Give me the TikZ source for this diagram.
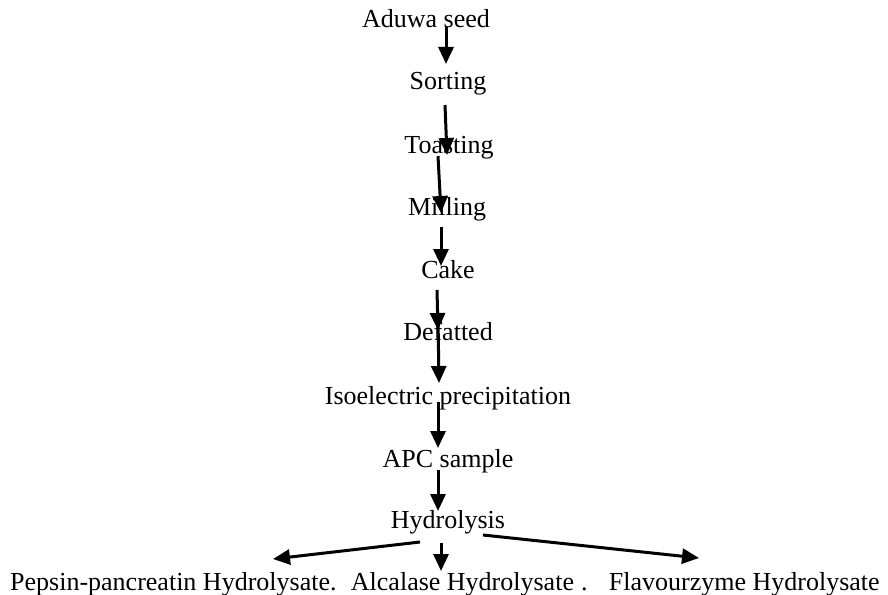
\documentclass[tikz,border=0pt]{standalone}
\usepackage{fontspec}
\setmainfont{Liberation Serif}
\usetikzlibrary{arrows.meta}
\begin{document}
\begin{tikzpicture}[x=1pt,y=-1pt,
  lbl/.style={anchor=base,inner sep=0pt,font=\fontsize{26}{30}\selectfont},
  flow/.style={line width=3pt,-{Triangle[width=15pt,length=17pt]}}]
\useasboundingbox (0,0) rectangle (888,594);
\node[lbl] (seed) at (426,28) {Aduwa seed};
\node[lbl] (sort) at (448,89) {Sorting};
\node[lbl] (toast) at (449,153) {Toasting};
\node[lbl] (mill) at (447,215) {Milling};
\node[lbl] (cake) at (448,278) {Cake};
\node[lbl] (def) at (448,340) {Defatted};
\node[lbl] (iso) at (448,404) {Isoelectric precipitation};
\node[lbl] (apc) at (448,467) {APC sample};
\node[lbl] (hyd) at (448,528) {Hydrolysis};
\node[lbl,anchor=base west] (pep) at (10,590) {Pepsin-pancreatin Hydrolysate.};
\node[lbl,anchor=base west] (alc) at ([xshift=14pt]pep.base east) {Alcalase Hydrolysate\hspace{7pt}.};
\node[lbl,anchor=base west] (fla) at ([xshift=21pt]alc.base east) {Flavourzyme Hydrolysate};
% connector end points
\coordinate (c1a) at (446,27);  \coordinate (c1b) at (446,64);
\coordinate (c2a) at (445,105); \coordinate (c2b) at (447,155);
\coordinate (c3a) at (438,156); \coordinate (c3b) at (441,213);
\coordinate (c4a) at (441,227); \coordinate (c4b) at (441,266);
\coordinate (c5a) at (437,290); \coordinate (c5b) at (438,330);
\coordinate (c6a) at (438,318); \coordinate (c6b) at (439,383);
\coordinate (c7a) at (438,402); \coordinate (c7b) at (438,448);
\coordinate (c8a) at (438,470); \coordinate (c8b) at (438,511);
\coordinate (c9a) at (420,542); \coordinate (c9b) at (273,559);
\coordinate (c10a) at (441,543); \coordinate (c10b) at (441,571);
\coordinate (c11a) at (483,535); \coordinate (c11b) at (699,558);
\draw[flow] (c1a) -- (c1b);
\draw[flow] (c2a) -- (c2b);
\draw[flow] (c3a) -- (c3b);
\draw[flow] (c4a) -- (c4b);
\draw[flow] (c5a) -- (c5b);
\draw[flow] (c6a) -- (c6b);
\draw[flow] (c7a) -- (c7b);
\draw[flow] (c8a) -- (c8b);
\draw[flow] (c9a) -- (c9b);
\draw[flow] (c10a) -- (c10b);
\draw[flow] (c11a) -- (c11b);
\end{tikzpicture}
\end{document}
